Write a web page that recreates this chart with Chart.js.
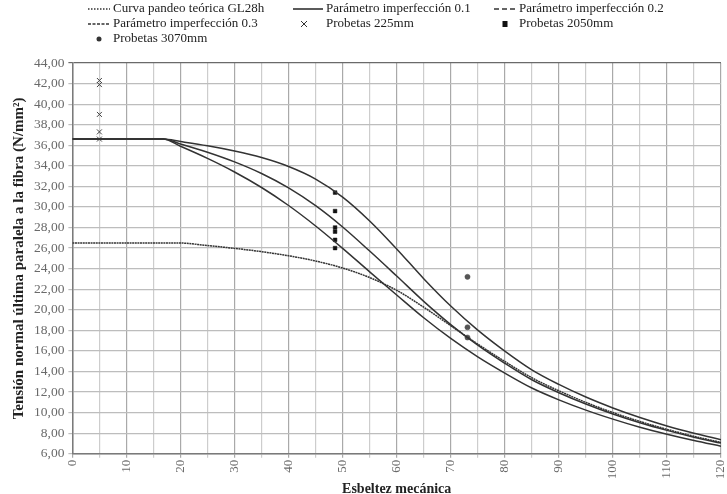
<!DOCTYPE html>
<html><head><meta charset="utf-8">
<script src="https://cdn.jsdelivr.net/npm/chart.js@4/dist/chart.umd.min.js"></script>
<style>html,body{margin:0;padding:0;background:#fff}#wrap{width:727px;height:494px;position:relative}</style>
</head><body><div id="wrap"><canvas id="c" width="727" height="494"></canvas></div>
<script>
// Curve abscissas (esbeltez mecánica)
const upperX = [0,16.8,20,25,30,35,40,45,50,55,60,65,70,75,80,85,90,95,100,105,110,115,120];
const lowerX = [0,19.5,25,30,35,40,45,50,55,60,65,70,75,80,85,90,95,100,105,110,115,120];
// Curve values (N/mm2)
const curvaTeorica = [26.5,26.5,26.24,25.97,25.65,25.25,24.74,24.06,23.13,21.89,20.25,18.45,16.66,14.97,13.39,12.12,10.99,10.00,9.14,8.37,7.69,7.10];
const imperf01 = [36.6,36.6,36.36,35.95,35.44,34.80,33.93,32.71,30.96,28.64,25.92,23.02,20.36,18.02,15.98,14.16,12.74,11.51,10.45,9.52,8.70,7.99,7.36];
const imperf02 = [36.6,36.6,36.13,35.32,34.38,33.25,31.85,30.12,28.05,25.71,23.28,20.82,18.56,16.55,14.79,13.19,11.93,10.83,9.86,9.01,8.27,7.61,7.03];
const imperf03 = [36.6,36.6,35.90,34.72,33.40,31.89,30.14,28.15,25.97,23.69,21.44,19.22,17.21,15.42,13.84,12.39,11.24,10.24,9.36,8.57,7.89,7.28,6.73];
// Test specimens
const x225 = 5;
const probetas225 = [42.3,41.9,39.0,37.3,36.6];
const x2050 = 48.6;
const probetas2050 = [31.4,29.6,28.0,27.6,26.8,26.0];
const x3070 = 73.1;
const probetas3070 = [23.2,18.3,17.3];
// Labels
const legendLabels = ['Curva pandeo teórica GL28h','Parámetro imperfección 0.1','Parámetro imperfección 0.2','Parámetro imperfección 0.3','Probetas 225mm','Probetas 2050mm','Probetas 3070mm'];
const xTitle = 'Esbeltez mecánica';
const yTitle = 'Tensión normal última paralela a la fibra (N/mm²)';

const pts = (xs, ys) => ys.map((y,i) => ({x: xs[i], y}));
const col = (x, ys) => ys.map(y => ({x, y}));
const SERIF = '"Liberation Serif","DejaVu Serif",serif';
const lineC = '#333333';

const lineDs = (label, data, dash) => ({
  label, data, type: 'line', showLine: true, borderColor: lineC, borderWidth: 1.5,
  borderDash: dash, pointRadius: 0, cubicInterpolationMode: 'monotone', fill: false
});

const legendPlugin = {
  id: 'gridLegend',
  afterDraw(chart) {
    const ctx = chart.ctx;
    const cols = [88, 293, 494];
    const textX = [113, 326, 519];
    const rows = [9, 24, 39];
    const items = [
      {c:0,r:0,kind:'line',dash:[1.5,1.5],w:22},
      {c:1,r:0,kind:'line',dash:[],w:30},
      {c:2,r:0,kind:'line',dash:[5,3],w:22},
      {c:0,r:1,kind:'line',dash:[3,1.5],w:22},
      {c:1,r:1,kind:'cross'},
      {c:2,r:1,kind:'rect'},
      {c:0,r:2,kind:'circle'}
    ];
    ctx.save();
    ctx.font = '13px ' + SERIF;
    ctx.textBaseline = 'middle';
    items.forEach((it, i) => {
      const x0 = cols[it.c], y = rows[it.r];
      ctx.strokeStyle = '#333'; ctx.fillStyle = '#333';
      if (it.kind === 'line') {
        ctx.lineWidth = 1.6; ctx.setLineDash(it.dash);
        ctx.beginPath(); ctx.moveTo(x0, y); ctx.lineTo(x0 + it.w, y); ctx.stroke();
        ctx.setLineDash([]);
      } else if (it.kind === 'cross') {
        const cx = x0 + 11; ctx.lineWidth = 1;
        ctx.beginPath(); ctx.moveTo(cx-3, y-3); ctx.lineTo(cx+3, y+3); ctx.moveTo(cx+3, y-3); ctx.lineTo(cx-3, y+3); ctx.stroke();
      } else if (it.kind === 'rect') {
        const cx = x0 + 11; ctx.fillStyle = '#111'; ctx.fillRect(cx-2.5, y-3, 5, 6);
      } else if (it.kind === 'circle') {
        const cx = x0 + 11; ctx.beginPath(); ctx.arc(cx, y, 2.5, 0, Math.PI*2); ctx.fill();
      }
      ctx.fillStyle = '#222';
      ctx.fillText(legendLabels[i], textX[it.c], y);
    });
    ctx.restore();
  }
};

new Chart(document.getElementById('c'), {
  type: 'scatter',
  data: {
    datasets: [
      lineDs(legendLabels[0], pts(lowerX, curvaTeorica), [2,0.6]),
      lineDs(legendLabels[1], pts(upperX, imperf01), []),
      lineDs(legendLabels[2], pts(upperX, imperf02), []),
      lineDs(legendLabels[3], pts(upperX, imperf03), []),
      {label: legendLabels[4], data: col(x225, probetas225), pointStyle: 'crossRot', pointRadius: 3.5, borderColor: '#444', backgroundColor: '#444', borderWidth: 1},
      {label: legendLabels[5], data: col(x2050, probetas2050), pointStyle: 'rect', pointRadius: 2.6, borderColor: '#111', backgroundColor: '#111', borderWidth: 0.5},
      {label: legendLabels[6], data: col(x3070, probetas3070), pointStyle: 'circle', pointRadius: 2.6, borderColor: '#555', backgroundColor: '#555', borderWidth: 0.5}
    ]
  },
  options: {
    responsive: false, animation: false, devicePixelRatio: 1,
    layout: {padding: {top: 63, right: 6, left: 10, bottom: -4}},
    plugins: {legend: {display: false}, tooltip: {enabled: false}},
    scales: {
      x: {
        type: 'linear', min: 0, max: 120,
        afterFit: s => { s.paddingRight = 0; s.paddingLeft = 0; },
        ticks: {stepSize: 5, autoSkip: false, minRotation: 90, maxRotation: 90, padding: 2,
          callback: v => (v % 10 === 0 ? String(v) : ''),
          font: {family: SERIF, size: 13}, color: '#6a6a6a'},
        grid: {color: c => (c.tick && c.tick.value % 10 === 0 ? '#a9a9a9' : '#cdcdcd'), lineWidth: 1.2, tickLength: 4},
        border: {color: '#7a7a7a', width: 1.5},
        title: {display: true, text: xTitle, font: {family: SERIF, size: 14, weight: 'bold'}, color: '#222', padding: {top: 0, bottom: 0}}
      },
      y: {
        min: 6, max: 44,
        ticks: {stepSize: 2, padding: 4,
          callback: v => v.toFixed(2).replace('.', ','),
          font: {family: SERIF, size: 13.5}, color: '#6a6a6a'},
        grid: {color: c => (c.tick && c.tick.value === 44 ? '#6a6a6a' : '#bdbdbd'), lineWidth: 1.2, tickLength: 4},
        border: {color: '#7a7a7a', width: 1.5},
        title: {display: true, text: yTitle, font: {family: SERIF, size: 15, weight: 'bold'}, color: '#222', padding: {top: 0, bottom: 2}}
      }
    }
  },
  plugins: [legendPlugin]
});
</script></body></html>
